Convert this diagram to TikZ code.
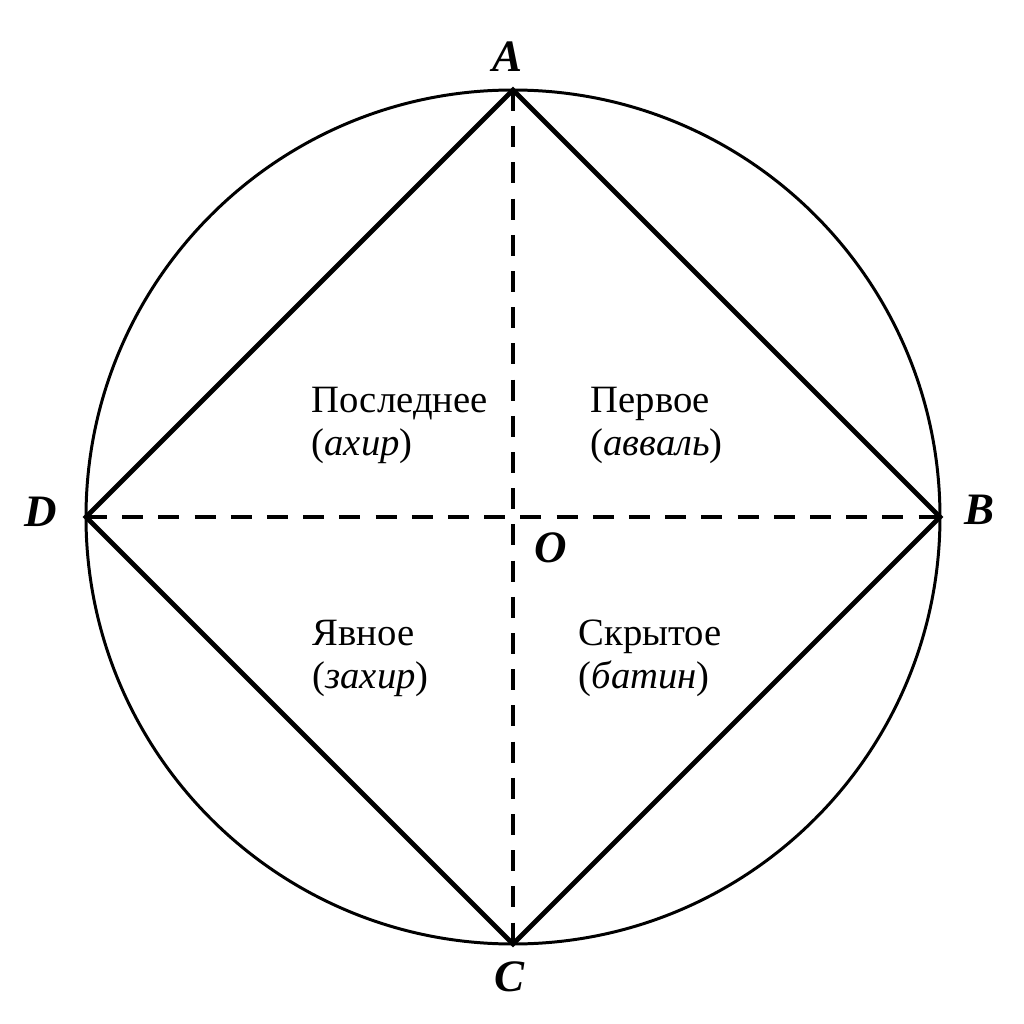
\documentclass[tikz,border=0pt]{standalone}
\usepackage{fontspec}
\setmainfont{Liberation Serif}
\tikzstyle{pt}=[inner sep=0pt,font=\fontsize{12.8}{14}\selectfont\bfseries\itshape]
\tikzstyle{word}=[align=left,inner sep=0pt,anchor=base west,font=\fontsize{11}{12.2}\selectfont]
\tikzstyle{side}=[line width=1.35pt,line join=miter]
\tikzstyle{axis}=[line width=1.25pt,dash pattern=on 6pt off 4.3pt]
\begin{document}
\begin{tikzpicture}
\useasboundingbox (-5.13,-5.07) rectangle (5.11,5.17);
\coordinate(o) at (0,0);
\coordinate(a) at (0,4.27);
\coordinate(b) at (4.27,0);
\coordinate(c) at (0,-4.27);
\coordinate(d) at (-4.27,0);
\draw[line width=0.85pt](o) circle (4.27);
\draw[side](a)--(b)--(c)--(d)--cycle;
\draw[axis](a)--(c);
\draw[axis](d)--(b);
\node(A)[pt] at (-0.05,4.60){A};
\node(B)[pt] at (4.67,0.07){B};
\node(C)[pt] at (-0.03,-4.60){C};
\node(D)[pt] at (-4.72,0.05){D};
\node(O)[pt] at (0.38,-0.31){O};
\node(last)[word] at (-2.02,0.62){Последнее\\(\textit{ахир})};
\node(first)[word] at (0.77,0.62){Первое\\(\textit{авваль})};
\node(manifest)[word] at (-2.01,-1.71){Явное\\(\textit{захир})};
\node(hidden)[word] at (0.65,-1.71){Скрытое\\(\textit{батин})};
\end{tikzpicture}
\end{document}
